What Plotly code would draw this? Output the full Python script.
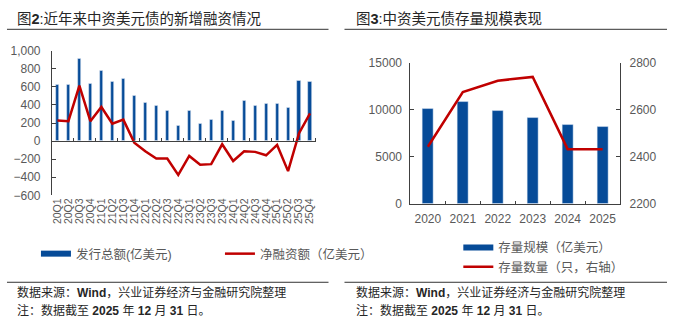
import plotly.graph_objects as go

W, H = 677, 329

# ---- Left chart data ----
quarters = ["20Q1","20Q2","20Q3","20Q4","21Q1","21Q2","21Q3","21Q4",
            "22Q1","22Q2","22Q3","22Q4","23Q1","23Q2","23Q3","23Q4",
            "24Q1","24Q2","24Q3","24Q4","25Q1","25Q2","25Q3","25Q4"]
issuance = [622, 625, 910, 640, 780, 657, 685, 500,
            420, 392, 340, 168, 340, 192, 231, 340,
            227, 444, 395, 409, 409, 367, 664, 657]
net_financing = [227, 220, 615, 220, 378, 192, 238, -17,
                 -112, -192, -192, -374, -164, -262, -255, -35,
                 -220, -112, -119, -157, -42, -332, 87, 308]

# ---- Right chart data ----
years = ["2020", "2021", "2022", "2023", "2024", "2025"]
outstanding = [10100, 10860, 9950, 9150, 8400, 8250]
count = [2443, 2676, 2724, 2740, 2433, 2433]

BLUE = "#064B98"
RED = "#C00000"
GREY = "#595959"
FONT = "Liberation Sans, Arial, Noto Sans CJK SC, sans-serif"

def px_x(x):
    return x / W

def px_y(y):
    return 1 - y / H

# domains
L_x = [px_x(51), px_x(315)]
L_y = [px_y(196.7), px_y(45.7)]
R_x = [px_x(410), px_x(620)]
R_y = [px_y(205.7), px_y(58.3)]
L_range = [-600, 1000]
zero_pos = L_y[0] + (0 - L_range[0]) / (L_range[1] - L_range[0]) * (L_y[1] - L_y[0])

fig = go.Figure()

# Left chart
fig.add_trace(go.Bar(x=quarters, y=issuance, marker_color=BLUE, width=0.3,
                     xaxis="x", yaxis="y", showlegend=False))
fig.add_trace(go.Scatter(x=quarters, y=net_financing, mode="lines",
                         line=dict(color=RED, width=2.5),
                         xaxis="x2", yaxis="y", showlegend=False))
fig.add_trace(go.Scatter(x=[None], y=[None], mode="lines", name="发行总额(亿美元)",
                         line=dict(color=BLUE, width=6), legend="legend",
                         xaxis="x", yaxis="y"))
fig.add_trace(go.Scatter(x=[None], y=[None], mode="lines", name="净融资额（亿美元）",
                         line=dict(color=RED, width=2.5), legend="legend",
                         xaxis="x", yaxis="y"))

# Right chart
fig.add_trace(go.Bar(x=years, y=outstanding, marker_color=BLUE, width=0.31,
                     xaxis="x3", yaxis="y3", showlegend=False))
fig.add_trace(go.Scatter(x=years, y=count, mode="lines",
                         line=dict(color=RED, width=2.5),
                         xaxis="x3", yaxis="y4", showlegend=False))
fig.add_trace(go.Scatter(x=[None], y=[None], mode="lines", name="存量规模（亿美元）",
                         line=dict(color=BLUE, width=6), legend="legend2",
                         xaxis="x3", yaxis="y3"))
fig.add_trace(go.Scatter(x=[None], y=[None], mode="lines", name="存量数量（只，右轴）",
                         line=dict(color=RED, width=2.5), legend="legend2",
                         xaxis="x3", yaxis="y3"))

tickfont = dict(family=FONT, size=12, color=GREY)

fig.update_layout(
    width=W, height=H,
    margin=dict(l=0, r=0, t=0, b=0),
    paper_bgcolor="white", plot_bgcolor="white",
    font=dict(family=FONT, color=GREY),
    bargap=0,
    xaxis=dict(domain=L_x, anchor="y", type="category", range=[-0.5, 23.5],
               tickmode="linear", dtick=1,
               showline=False, ticks="", tickangle=-90,
               tickfont=dict(family=FONT, size=10.5, color=GREY),
               showgrid=False, zeroline=False),
    xaxis2=dict(overlaying="x", anchor="free", position=zero_pos, side="top",
                type="category", range=[-0.5, 23.5], matches="x",
                showline=True, linecolor="#404040", linewidth=1,
                ticks="outside", ticklen=3, tickcolor="#404040",
                tickson="boundaries", showticklabels=False, showgrid=False),
    yaxis=dict(domain=L_y, anchor="x", range=L_range, dtick=200, tickformat=",",
               showline=True, linecolor="#404040", linewidth=1,
               ticks="inside", ticklen=4, tickcolor="#404040", ticklabelstandoff=8,
               tickfont=tickfont, showgrid=False, zeroline=False),
    xaxis3=dict(domain=R_x, anchor="y3", type="category", range=[-0.5, 5.5],
                tickangle=0, ticklabelstandoff=4,
                showline=True, linecolor="#404040", linewidth=1,
                ticks="inside", ticklen=3, tickcolor="#404040", tickson="boundaries",
                tickfont=tickfont, showgrid=False),
    yaxis3=dict(domain=R_y, anchor="x3", range=[0, 15000], dtick=5000, tickformat="d",
                showline=True, linecolor="#404040", linewidth=1, ticklabelstandoff=5,
                ticks="inside", ticklen=4, tickcolor="#404040",
                tickfont=tickfont, showgrid=False, zeroline=False),
    yaxis4=dict(overlaying="y3", anchor="x3", side="right", range=[2200, 2800], dtick=200,
                showline=True, linecolor="#404040", linewidth=1, ticklabelstandoff=6,
                ticks="inside", ticklen=4, tickcolor="#404040",
                tickfont=tickfont, showgrid=False, zeroline=False),
    legend=dict(orientation="h", x=px_x(35), y=px_y(258), xanchor="left", yanchor="middle",
                font=dict(family=FONT, size=12.5, color=GREY),
                entrywidth=139, entrywidthmode="pixels",
                bgcolor="rgba(0,0,0,0)", tracegroupgap=0, itemwidth=30),
    legend2=dict(orientation="v", x=px_x(458), y=px_y(261.5), xanchor="left", yanchor="middle",
                 font=dict(family=FONT, size=12.5, color=GREY),
                 bgcolor="rgba(0,0,0,0)", tracegroupgap=0, itemwidth=30),
)

title_font = dict(family=FONT, size=14.5, color="#262626")
note_font = dict(family=FONT, size=12, color="#262626")

annotations = [
    dict(text="图<b>2</b>:近年来中资美元债的新增融资情况", x=px_x(14), y=px_y(12.5)),
    dict(text="图<b>3</b>:中资美元债存量规模表现", x=px_x(354), y=px_y(12.5)),
]
for a in annotations:
    fig.add_annotation(xref="paper", yref="paper", xanchor="left", yanchor="middle",
                       showarrow=False, font=title_font, **a)

notes = [
    ("数据来源：<b>Wind</b>，兴业证券经济与金融研究院整理", 298),
    ("注：数据截至 <b>2025</b> 年 <b>12</b> 月 <b>31</b> 日。", 316.5),
]
for xoff in (14, 354):
    for txt, yy in notes:
        fig.add_annotation(text=txt, x=px_x(xoff), y=px_y(yy), xref="paper", yref="paper",
                           xanchor="left", yanchor="middle", showarrow=False, font=note_font)

for (x0, x1) in ((6, 328), (344, 667)):
    for yy in (23.3, 287.5):
        fig.add_shape(type="line", xref="paper", yref="paper",
                      x0=px_x(x0), x1=px_x(x1), y0=px_y(yy), y1=px_y(yy),
                      line=dict(color="#333333", width=1))

fig.write_html("out.html")
